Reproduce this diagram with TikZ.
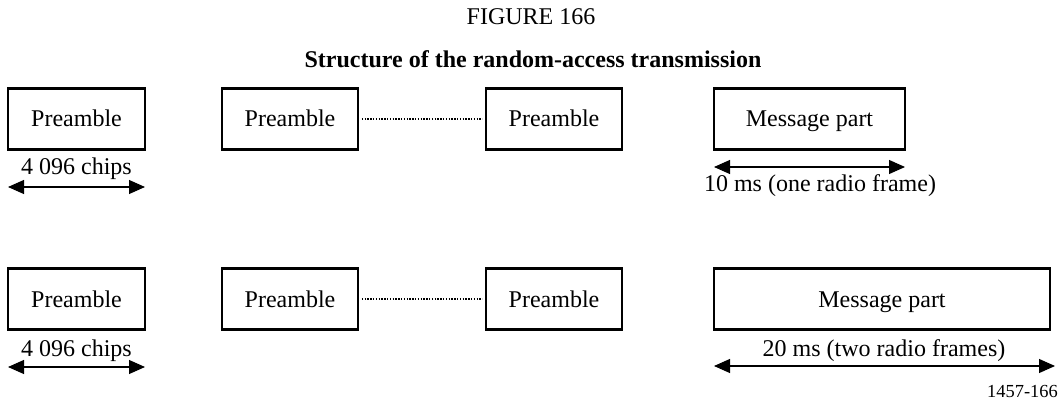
\documentclass[tikz,border=0pt]{standalone}
\usepackage{fontspec}
\setmainfont{Liberation Serif}
\usetikzlibrary{arrows.meta}
\begin{document}
\begin{tikzpicture}[x=0.75pt,y=-0.75pt,
  blk/.style={draw,line width=1.7pt,minimum height=61*0.75pt,inner sep=0pt,text height=12.5pt,text depth=0.5pt,font=\fontsize{18}{21}\selectfont},
  lbl/.style={font=\fontsize{18}{21}\selectfont,inner sep=0pt,anchor=base},
  dim/.style={line width=0.8pt,{Triangle[length=12pt,width=10.5pt]}-{Triangle[length=12pt,width=10.5pt]}},
  dots/.style={line width=1.2pt,dash pattern=on 1pt off 1.1pt}]
\useasboundingbox (0,0) rectangle (1062,409);
\node[lbl] (fig) at (531,25) {FIGURE 166};
\node[lbl,font=\fontsize{18}{21}\selectfont\bfseries] (title) at (533,68) {Structure of the random-access transmission};
% row 1
\node[blk,minimum width=137*0.75pt] (a1) at (76.5,119) {Preamble};
\node[blk,minimum width=136*0.75pt] (b1) at (290,119) {Preamble};
\node[blk,minimum width=136*0.75pt] (c1) at (554,119) {Preamble};
\node[blk,minimum width=191*0.75pt] (m1) at (809.5,119) {Message part};
\draw[dots] ([xshift=2pt]b1.east) -- ([xshift=-2pt]c1.west);
\node[lbl] (t1) at (76.5,175) {4 096 chips};
\coordinate (a1l) at (8,187); \coordinate (a1r) at (145,187);
\draw[dim] (a1l) -- (a1r);
\coordinate (m1l) at (714,167); \coordinate (m1r) at (905,167);
\draw[dim] (m1l) -- (m1r);
\node[lbl] (u1) at (820,191.5) {10 ms (one radio frame)};
% row 2
\node[blk,minimum width=137*0.75pt] (a2) at (76.5,299) {Preamble};
\node[blk,minimum width=136*0.75pt] (b2) at (290,299) {Preamble};
\node[blk,minimum width=136*0.75pt] (c2) at (554,299) {Preamble};
\node[blk,minimum width=336*0.75pt] (m2) at (882,299) {Message part};
\draw[dots] ([xshift=2pt]b2.east) -- ([xshift=-2pt]c2.west);
\node[lbl] (t2) at (76.5,356) {4 096 chips};
\coordinate (a2l) at (8,367); \coordinate (a2r) at (145,367);
\draw[dim] (a2l) -- (a2r);
\node[lbl] (u2) at (884,356) {20 ms (two radio frames)};
\coordinate (m2l) at (714,366); \coordinate (m2r) at (1055,366);
\draw[dim] (m2l) -- (m2r);
\node[lbl,anchor=base east,font=\fontsize{13.8}{16}\selectfont] (code) at (1058,397) {1457-166};
\end{tikzpicture}
\end{document}
